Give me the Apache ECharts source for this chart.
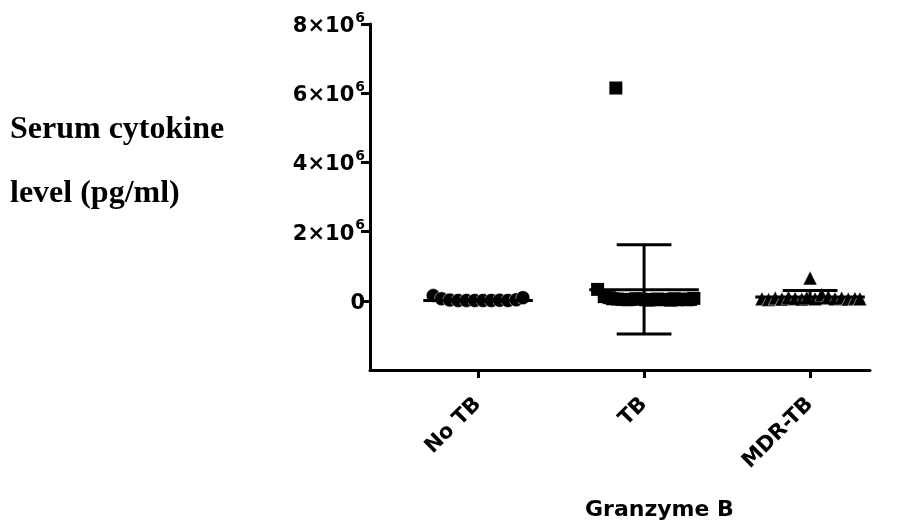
<!DOCTYPE html>
<html>
<head>
<meta charset="utf-8">
<script src="https://cdn.jsdelivr.net/npm/echarts@6/dist/echarts.min.js"></script>
<style>html,body{margin:0;padding:0;background:#fff}#c{width:910px;height:527px}</style>
</head>
<body>
<div id="c"></div>
<script>
// ---- data (pg/ml) ----
const groups = ['No TB', 'TB', 'MDR-TB'];
const yTicks = [0, 2e6, 4e6, 6e6, 8e6];

const noTBValues  = [150000, 60000, 20000, 10000, 10000, 10000, 10000, 10000, 15000, 10000, 30000, 90000];
const noTBOffsets = [-0.27, -0.22, -0.17, -0.12, -0.07, -0.02, 0.03, 0.08, 0.13, 0.18, 0.23, 0.27];

const tbValues  = [330000, 6150000, 120000, 90000, 60000, 50000, 40000, 30000, 40000, 60000, 50000, 30000, 20000, 40000, 50000, 30000, 40000, 20000, 60000, 30000, 40000, 50000, 30000, 40000, 70000];
const tbOffsets = [-0.28, -0.17, -0.24, -0.21, -0.19, -0.16, -0.13, -0.10, -0.08, -0.05, -0.02, 0.01, 0.03, 0.06, 0.08, 0.11, 0.13, 0.16, 0.18, 0.20, 0.22, 0.24, 0.26, 0.28, 0.30];

const mdrValues  = [660000, 60000, 40000, 80000, 50000, 100000, 70000, 50000, 90000, 60000, 180000, 120000, 60000, 80000, 50000, 70000, 60000];
const mdrOffsets = [0.0, -0.29, -0.25, -0.21, -0.17, -0.13, -0.09, -0.05, -0.02, 0.03, 0.07, 0.11, 0.15, 0.19, 0.23, 0.27, 0.30];

const means  = [10000, 320000, 110000];
const sdLow  = [-10000, -960000, -60000];
const sdHigh = [40000, 1620000, 300000];

// ---- build ----
function pts(vals, offs, gi) { return vals.map((v, i) => [gi + offs[i], v]); }
const errData = groups.map((g, i) => [i, means[i], sdLow[i], sdHigh[i]]);

const chart = echarts.init(document.getElementById('c'));
const lab = { fontFamily: '"DejaVu Sans", "Liberation Sans", Arial, sans-serif', fontWeight: 'bold', color: '#000' };

chart.setOption({
  animation: false,
  grid: { left: 370, right: 40, top: 24, bottom: 157, containLabel: false },
  xAxis: {
    type: 'value', min: -0.651, max: 2.361,
    splitLine: { show: false },
    axisLine: { show: true, onZero: false, lineStyle: { color: '#000', width: 3 } },
    axisTick: { show: true, customValues: [0, 1, 2], length: 8, lineStyle: { color: '#000', width: 3 } },
    axisLabel: {
      customValues: [0, 1, 2], rotate: 45, margin: 31,
      formatter: v => groups[Math.round(v)],
      fontSize: 21, ...lab
    }
  },
  yAxis: {
    type: 'value', min: -2e6, max: 8e6, interval: 2e6,
    splitLine: { show: false },
    axisLine: { show: true, onZero: false, lineStyle: { color: '#000', width: 3 } },
    axisTick: { show: true, customValues: yTicks, length: 9, lineStyle: { color: '#000', width: 3 } },
    axisLabel: {
      customValues: yTicks, margin: 5,
      formatter: v => v === 0 ? '{b|0}' : '{b|' + (v / 1e6) + '×10}{sup|6}',
      rich: {
        b: { fontSize: 21, ...lab, lineHeight: 26, verticalAlign: 'bottom' },
        sup: { fontSize: 14, ...lab, lineHeight: 26, verticalAlign: 'top', padding: [0, 0, 11, 1] }
      }
    }
  },
  graphic: [
    { type: 'text', left: 10, top: 114, style: { text: 'Serum cytokine', font: 'bold 32px "Liberation Serif", "Times New Roman", serif', fill: '#000' } },
    { type: 'text', left: 10, top: 178, style: { text: 'level (pg/ml)', font: 'bold 32px "Liberation Serif", "Times New Roman", serif', fill: '#000' } },
    { type: 'text', left: 585, top: 499, style: { text: 'Granzyme B', font: 'bold 22px "DejaVu Sans", "Liberation Sans", Arial, sans-serif', fill: '#000' } }
  ],
  series: [
    { type: 'scatter', data: pts(noTBValues, noTBOffsets, 0), symbol: 'circle', symbolSize: 14,
      itemStyle: { color: '#000', borderColor: '#fff', borderWidth: 0.5, opacity: 1 } },
    { type: 'scatter', data: pts(tbValues, tbOffsets, 1), symbol: 'rect', symbolSize: 13,
      itemStyle: { color: '#000', opacity: 1 } },
    { type: 'scatter', data: pts(mdrValues, mdrOffsets, 2), symbol: 'triangle', symbolSize: 14,
      itemStyle: { color: '#000', borderColor: '#fff', borderWidth: 0.5, opacity: 1 } },
    {
      type: 'custom', z: 10, data: errData,
      renderItem: (params, api) => {
        const x = api.value(0), m = api.value(1), lo = api.value(2), hi = api.value(3);
        const st = { stroke: '#000', lineWidth: 3 };
        const p = (a, b) => api.coord([a, b]);
        const mL = p(x - 0.33, m), mR = p(x + 0.33, m);
        const top = p(x, hi), bot = p(x, lo);
        const cTL = p(x - 0.165, hi), cTR = p(x + 0.165, hi);
        const cBL = p(x - 0.165, lo), cBR = p(x + 0.165, lo);
        return { type: 'group', children: [
          { type: 'line', shape: { x1: mL[0], y1: mL[1], x2: mR[0], y2: mR[1] }, style: st },
          { type: 'line', shape: { x1: top[0], y1: top[1], x2: bot[0], y2: bot[1] }, style: st },
          { type: 'line', shape: { x1: cTL[0], y1: cTL[1], x2: cTR[0], y2: cTR[1] }, style: st },
          { type: 'line', shape: { x1: cBL[0], y1: cBL[1], x2: cBR[0], y2: cBR[1] }, style: st }
        ]};
      }
    }
  ]
});
</script>
</body>
</html>
